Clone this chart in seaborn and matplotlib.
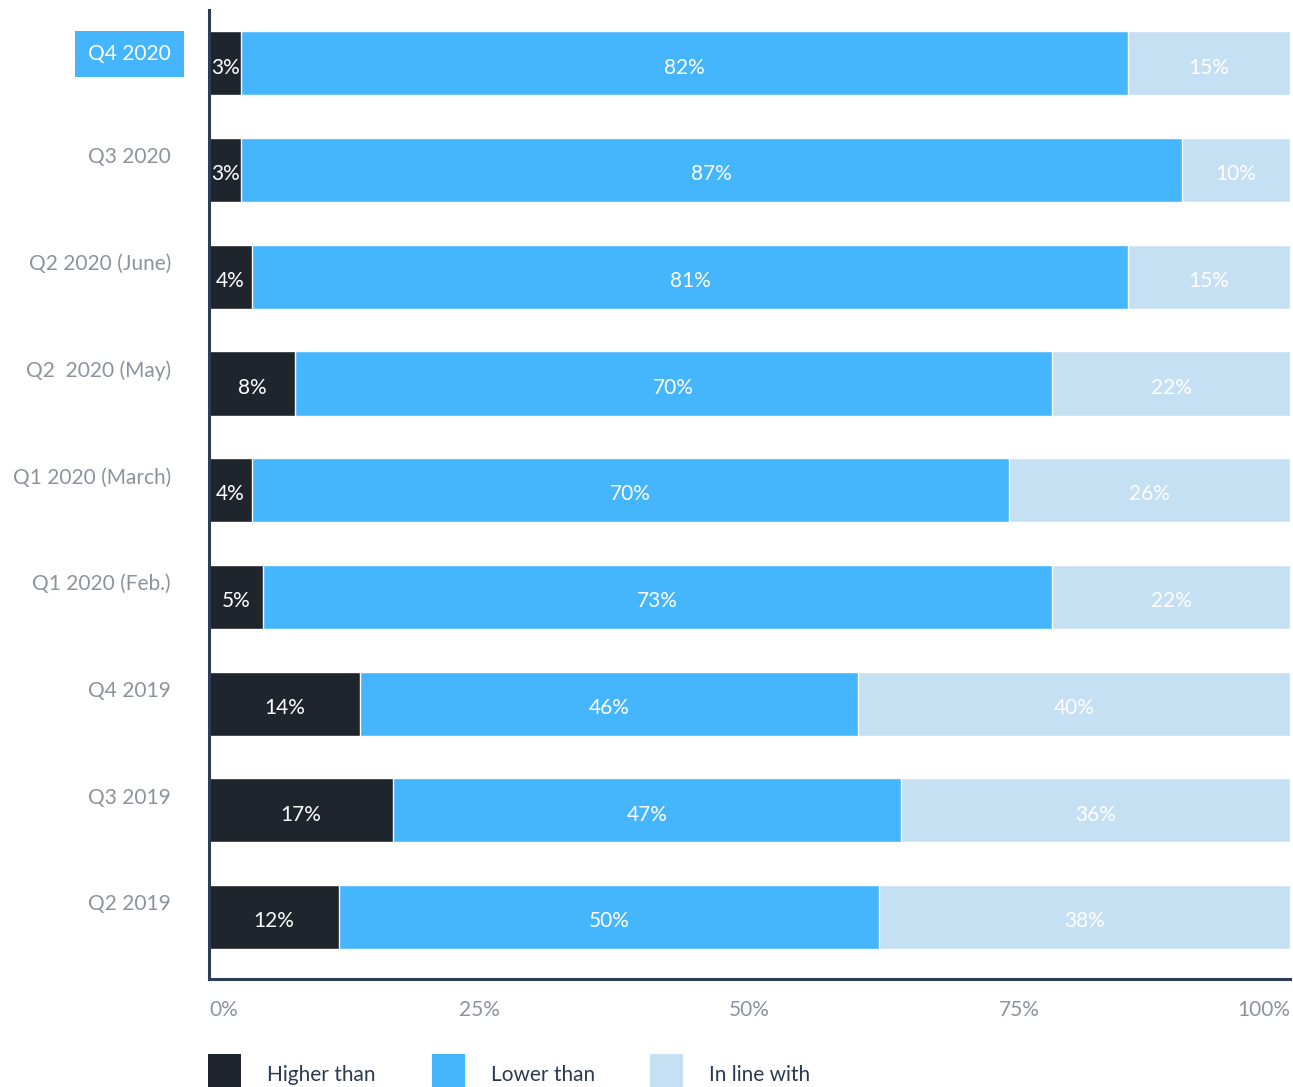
import matplotlib
matplotlib.use("Agg")
import matplotlib.pyplot as plt
from matplotlib.patches import Rectangle
from matplotlib.transforms import ScaledTranslation
import seaborn as sns
import pandas as pd
import numpy as np

# Survey periods and share of answers per group (percent)
periods = ["Q4 2020", "Q3 2020", "Q2 2020 (June)", "Q2  2020 (May)", "Q1 2020 (March)",
           "Q1 2020 (Feb.)", "Q4 2019", "Q3 2019", "Q2 2019"]
higher = [3, 3, 4, 8, 4, 5, 14, 17, 12]
lower = [82, 87, 81, 70, 70, 73, 46, 47, 50]
inline = [15, 10, 15, 22, 26, 22, 40, 36, 38]
series_names = ["Higher than", "Lower than", "In line with"]
tick_values = [0, 25, 50, 75, 100]
tick_labels = ["0%", "25%", "50%", "75%", "100%"]

c_high = "#1f252c"
c_low = "#45b5fe"
c_inline = "#c5dff3"
c_axis = "#2e3d57"
c_tick = "#8e929c"
c_legend = "#2c3a50"

sns.set_theme(style="white")
plt.rcParams["font.family"] = ["Lato", "DejaVu Sans"]

df = pd.DataFrame({"period": periods, "higher": higher, "lower": lower, "inline": inline})
df["cum_low"] = df["higher"] + df["lower"]
df["cum_all"] = df["cum_low"] + df["inline"]

fig = plt.figure(figsize=(12.93, 10.87), dpi=100)
ax = fig.add_axes([0.1616, 0.0994, 0.8361, 0.8914])

# Stacked horizontal bars drawn back to front from cumulative totals
for col, color in [("cum_all", c_inline), ("cum_low", c_low), ("higher", c_high)]:
    sns.barplot(data=df, x=col, y="period", orient="h", color=color,
                width=0.6, saturation=1, ax=ax, order=periods)

# Value labels centred on each segment
for i, row in df.iterrows():
    segs = [(0, row["higher"]), (row["higher"], row["lower"]), (row["cum_low"], row["inline"])]
    for start, val in segs:
        ax.text(start + val / 2, i + 0.04, f"{val}%", ha="center", va="center",
                color="white", fontsize=15)

ax.set_xlim(0, 100)
ax.set_ylim(8.58, -0.5)
ax.set_xlabel("")
ax.set_ylabel("")
ax.set_xticks(tick_values)
ax.set_xticklabels(tick_labels, color=c_tick, fontsize=15)
tl = ax.get_xticklabels()
tl[0].set_ha("left")
tl[-1].set_ha("right")
tl[-1].set_transform(tl[-1].get_transform() + ScaledTranslation(-0.06, 0, fig.dpi_scale_trans))
ax.tick_params(axis="x", length=0, pad=15)

ax.set_yticks(range(len(periods)))
ax.set_yticklabels([])
ax.tick_params(axis="y", length=0)

# Category labels sit slightly above bar centres; the latest period is highlighted
for i, name in enumerate(periods):
    if i == 0:
        ax.text(-0.035, i - 0.09, name, transform=ax.get_yaxis_transform(),
                ha="right", va="center", color="white", fontsize=15,
                bbox=dict(boxstyle="square,pad=0.62", fc=c_low, ec="none"))
    else:
        ax.text(-0.035, i - 0.12, name, transform=ax.get_yaxis_transform(),
                ha="right", va="center", color=c_tick, fontsize=15)

for s in ["top", "right"]:
    ax.spines[s].set_visible(False)
for s in ["left", "bottom"]:
    ax.spines[s].set_color(c_axis)
    ax.spines[s].set_linewidth(2.2)

# Legend drawn as squares with labels along the bottom
W, H = 1293, 1087
legend_x = [208, 432, 650]
for x, name, color in zip(legend_x, series_names, [c_high, c_low, c_inline]):
    fig.add_artist(Rectangle((x / W, 0), 33 / W, 33 / H, transform=fig.transFigure,
                             fc=color, ec="none"))
    fig.text((x + 59) / W, 1 - 1075 / H, name, ha="left", va="center",
             color=c_legend, fontsize=15)

fig.savefig("out.png", dpi=100, facecolor="white")
